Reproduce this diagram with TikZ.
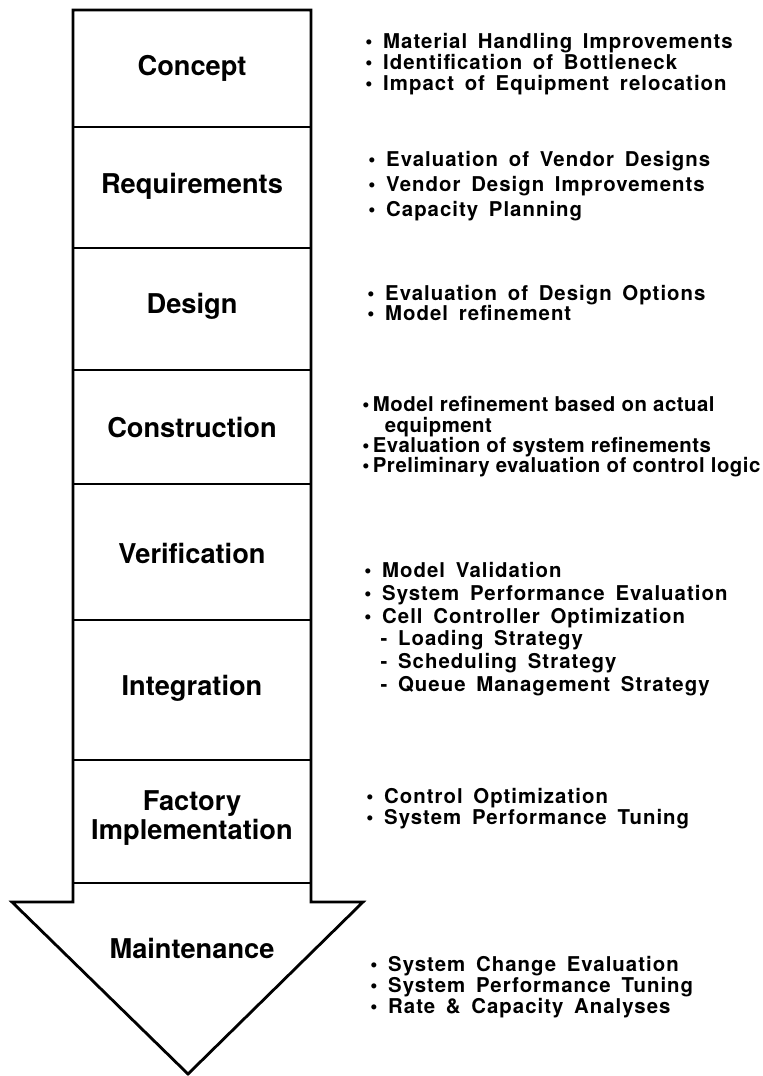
\documentclass[tikz,border=0pt]{standalone}
\usepackage{fontspec}
\setmainfont{TeX Gyre Heros}
\newfontfamily\notefont[LetterSpace=5,WordSpace=1.6]{TeX Gyre Heros}
\newfontfamily\tightfont[LetterSpace=2.5]{TeX Gyre Heros}
\begin{document}
\begin{tikzpicture}[x=0.02cm,y=-0.02cm,
		stage/.style={font=\fontsize{15.5}{17}\selectfont\bfseries,align=center},
		notes/.style={anchor=west,inner sep=0pt,align=left,font=\notefont\fontsize{11.6}{11.9pt}\selectfont\bfseries}]
	\useasboundingbox (0,0) rectangle (763,1076);
	% outline of the arrow
	\draw[line width=1.6pt,line join=miter] (73,10) -- (311,10) -- (311,902) -- (363,902)
		-- (188,1074) -- (12,902) -- (73,902) -- cycle;
	\foreach \y in {127,248,370,484,620,760,883}
		\draw[line width=1.6pt] (73,\y) -- (311,\y);
	% phases
	\node[stage] (concept) at (192,68) {Concept};
	\node[stage] (req) at (192,186) {Requirements};
	\node[stage] (design) at (192,306) {Design};
	\node[stage] (constr) at (192,428) {Construction};
	\node[stage] (verif) at (192,553) {Verification};
	\node[stage] (integr) at (192,688) {Integration};
	\node[stage] (factory) at (192,818) {Factory\\Implementation};
	\node[stage] (maint) at (192,948) {Maintenance};
	% activities
	\node[notes] (n1) at (365,64) {\textbullet\ Material Handling Improvements\\
		\textbullet\ Identification of Bottleneck\\
		\textbullet\ Impact of Equipment relocation};
	\node[notes,font=\notefont\fontsize{11.6}{14.4pt}\selectfont\bfseries] (n2) at (368,186)
		{\textbullet\ Evaluation of Vendor Designs\\
		\textbullet\ Vendor Design Improvements\\
		\textbullet\ Capacity Planning};
	\node[notes] (n3) at (367,303) {\textbullet\ Evaluation of Design Options\\
		\textbullet\ Model refinement};
	\node[notes,font=\tightfont\fontsize{11.6}{11.6pt}\selectfont\bfseries] (n4) at (362,437)
		{\textbullet\,Model refinement based on actual\\
		\hspace*{1.1em}equipment\\
		\textbullet\,Evaluation of system refinements\\
		\textbullet\,Preliminary evaluation of control logic};
	\node[notes,font=\notefont\fontsize{11.6}{12.9pt}\selectfont\bfseries] (n5) at (364,629)
		{\textbullet\ Model Validation\\
		\textbullet\ System Performance Evaluation\\
		\textbullet\ Cell Controller Optimization\\
		\hspace*{0.8em}-\ Loading Strategy\\
		\hspace*{0.8em}-\ Scheduling Strategy\\
		\hspace*{0.8em}-\ Queue Management Strategy};
	\node[notes] (n6) at (366,809) {\textbullet\ Control Optimization\\
		\textbullet\ System Performance Tuning};
	\node[notes] (n7) at (370,987) {\textbullet\ System Change Evaluation\\
		\textbullet\ System Performance Tuning\\
		\textbullet\ Rate \& Capacity Analyses};
\end{tikzpicture}
\end{document}
